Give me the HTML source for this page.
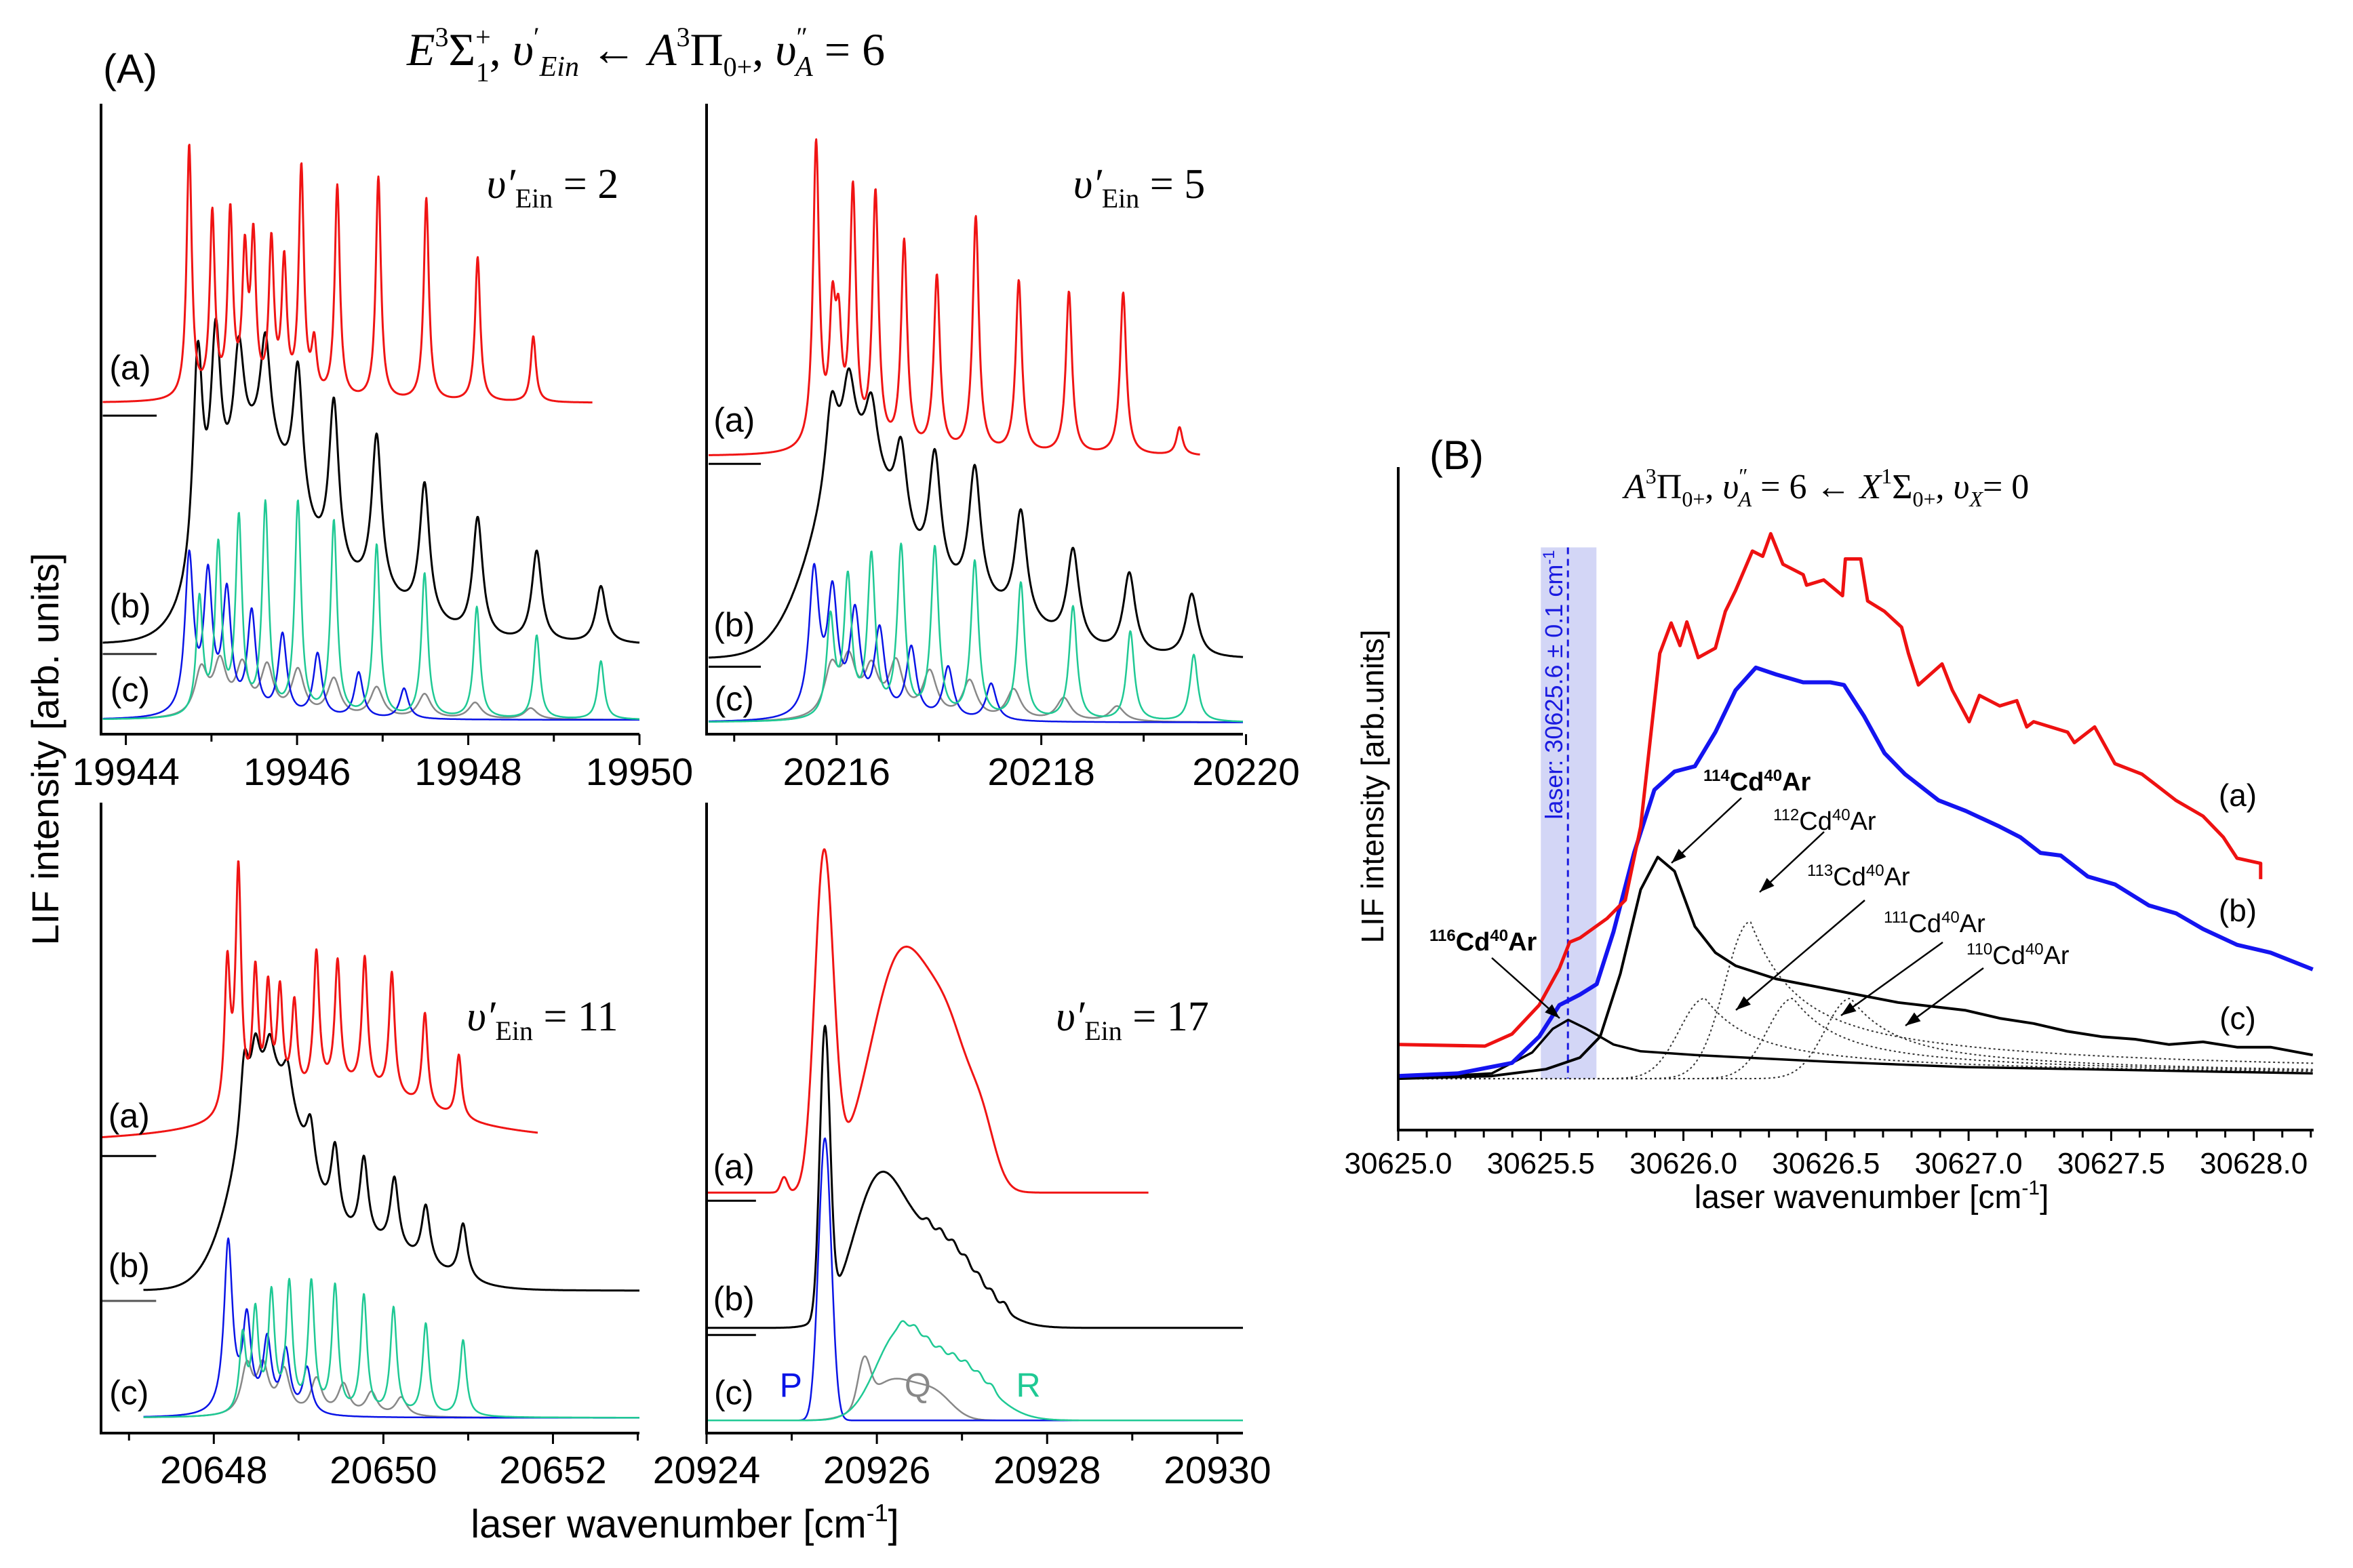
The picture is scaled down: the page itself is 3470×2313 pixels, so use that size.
<!DOCTYPE html>
<html><head><meta charset="utf-8"><title>LIF spectra</title>
<style>
html,body{margin:0;padding:0;background:#fff;}
svg{display:block;}
.sans{font-family:"Liberation Sans",Arial,sans-serif;}
.serif{font-family:"Liberation Serif","Times New Roman",serif;}
</style></head>
<body>
<svg id="fig" xmlns="http://www.w3.org/2000/svg" width="3470" height="2313" viewBox="0 0 3470 2313">
<rect x="0" y="0" width="3470" height="2313" fill="#fff"/>
<text class="sans" x="152" y="122" font-size="60">(A)</text>
<text class="serif" x="600" y="96" font-size="68"><tspan font-style="italic">E</tspan><tspan font-size="40" dy="-28">3</tspan><tspan dy="28">Σ</tspan><tspan font-size="40" dy="-28">+</tspan><tspan font-size="40" dx="-22" dy="52">1</tspan><tspan dy="-24">, </tspan><tspan font-style="italic">υ</tspan><tspan font-size="40" dy="-28">′</tspan><tspan font-size="42" font-style="italic" dy="44">Ein</tspan><tspan dy="-16"> ← </tspan><tspan font-style="italic">A</tspan><tspan font-size="40" dy="-28">3</tspan><tspan dy="28">Π</tspan><tspan font-size="40" dy="16">0+</tspan><tspan dy="-16">, </tspan><tspan font-style="italic">υ</tspan><tspan font-size="40" dy="-28">″</tspan><tspan font-size="42" font-style="italic" dx="-18" dy="44">A</tspan><tspan dy="-16"> = 6</tspan></text>
<text class="sans" font-size="56" transform="translate(86,1105) rotate(-90)" text-anchor="middle">LIF intensity [arb. units]</text>
<text class="sans" font-size="58" x="1010" y="2268" text-anchor="middle">laser wavenumber [cm<tspan font-size="36" dy="-24">-1</tspan><tspan dy="24">]</tspan></text>

<text class="sans" x="2108" y="692" font-size="60">(B)</text>
<text class="serif" x="2395" y="735" font-size="52"><tspan font-style="italic">A</tspan><tspan font-size="32" dy="-22">3</tspan><tspan dy="22">Π</tspan><tspan font-size="32" dy="12">0+</tspan><tspan dy="-12">, </tspan><tspan font-style="italic">υ</tspan><tspan font-size="32" dy="-22">″</tspan><tspan font-size="32" font-style="italic" dx="-14" dy="34">A</tspan><tspan dy="-12"> = 6 ← </tspan><tspan font-style="italic">X</tspan><tspan font-size="32" dy="-22">1</tspan><tspan dy="22">Σ</tspan><tspan font-size="32" dy="12">0+</tspan><tspan dy="-12">, </tspan><tspan font-style="italic">υ</tspan><tspan font-size="32" font-style="italic" dy="12">X</tspan><tspan dy="-12">= 0</tspan></text>
<text class="sans" font-size="46" transform="translate(2040,1160) rotate(-90)" text-anchor="middle">LIF intensity [arb.units]</text>
<text class="sans" font-size="48" x="2760" y="1782" text-anchor="middle">laser wavenumber [cm<tspan font-size="30" dy="-20">-1</tspan><tspan dy="20">]</tspan></text>
<g id="layer"></g>
</svg>
<script>
// ---------- Panel A1 (v'Ein = 2) ----------
const a1RedPos=[19944.74,19945.01,19945.22,19945.39,19945.49,19945.70,19945.85,19946.05,19946.20,19946.47,19946.95,19947.51,19948.11,19948.76];
const a1RedAmp=[500,360,360,270,300,300,260,450,100,420,440,400,285,130];
const a1BlackPos=[19945.5,19946.6,19944.84,19945.05,19945.32,19945.63,19946.01,19946.43,19946.93,19947.49,19948.11,19948.80,19949.55];
const a1BlackAmp=[350,100,430,360,220,210,280,330,310,265,235,180,113];
const a1BlackWid=[0.45,0.7,0.07,0.07,0.07,0.07,0.07,0.07,0.07,0.07,0.07,0.07,0.07];
const a1BlackShape=['g','g','l','l','l','l','l','l','l','l','l','l','l'];
const a1GreenPos=[19944.86,19945.08,19945.32,19945.63,19946.01,19946.43,19946.93,19947.49,19948.10,19948.80,19949.55];
const a1GreenAmp=[230,330,385,415,420,385,340,285,220,165,115];
const a1BluePos=[19944.74,19944.96,19945.18,19945.47,19945.83,19946.24,19946.72,19947.25];
const a1BlueAmp=[310,265,235,200,160,125,90,60];
const a1GrayPos=[19944.88,19945.10,19945.36,19945.65,19946.01,19946.43,19946.93,19947.49,19948.08,19948.73];
const a1GrayAmp=[90,100,95,95,90,75,60,48,32,22];
const a1Ticks=[19944,19945,19946,19947,19948,19949,19950];
const a1TickLabels=["19944","19946","19948","19950"];
// ---------- Panel A2 (v'Ein = 5) ----------
const a2RedPos=[20215.80,20215.96,20216.02,20216.16,20216.38,20216.66,20216.98,20217.36,20217.78,20218.27,20218.80,20219.35];
const a2RedAmp=[600,240,200,500,500,410,345,465,340,320,320,55];
const a2BlackPos=[20216.15,20217.1,20215.95,20216.12,20216.34,20216.63,20216.96,20217.35,20217.80,20218.31,20218.86,20219.47];
const a2BlackAmp=[340,110,170,150,130,170,250,260,215,185,160,125];
const a2BlackWid=[0.38,0.7,0.07,0.07,0.07,0.07,0.07,0.07,0.07,0.07,0.07,0.07];
const a2BlackShape=['g','g','l','l','l','l','l','l','l','l','l','l'];
const a2GreenPos=[20215.94,20216.11,20216.34,20216.63,20216.96,20217.35,20217.80,20218.31,20218.87,20219.49];
const a2GreenAmp=[195,270,315,335,335,310,270,225,177,132];
const a2BluePos=[20215.78,20215.96,20216.18,20216.42,20216.73,20217.09,20217.51];
const a2BlueAmp=[283,233,198,168,138,103,73];
const a2GrayPos=[20215.95,20216.12,20216.34,20216.58,20216.91,20217.30,20217.73,20218.22,20218.74];
const a2GrayAmp=[95,105,90,105,90,75,60,45,30];
const a2Ticks=[20215,20216,20217,20218,20219,20220];
const a2TickLabels=["20216","20218","20220"];
// ---------- Panel A3 (v'Ein = 11) ----------
const a3RedPos=[20649.6,20648.16,20648.29,20648.49,20648.64,20648.78,20648.95,20649.21,20649.46,20649.78,20650.10,20650.49,20650.89];
const a3RedAmp=[110,290,470,260,220,210,180,270,245,255,240,185,125];
const a3RedWid=[1.2,0.04,0.04,0.04,0.04,0.04,0.04,0.04,0.04,0.04,0.04,0.04,0.04];
const a3BlackPos=[20648.65,20649.7,20648.36,20648.49,20648.66,20648.87,20649.14,20649.43,20649.77,20650.13,20650.50,20650.94];
const a3BlackAmp=[380,90,150,100,70,70,100,150,160,140,115,110];
const a3BlackWid=[0.38,0.7,0.06,0.06,0.06,0.06,0.06,0.06,0.06,0.06,0.06,0.06];
const a3BlackShape=['g','g','l','l','l','l','l','l','l','l','l','l'];
const a3GreenPos=[20648.34,20648.49,20648.68,20648.89,20649.15,20649.43,20649.77,20650.12,20650.50,20650.94];
const a3GreenAmp=[150,195,230,250,255,250,233,210,180,150];
const a3BluePos=[20648.17,20648.39,20648.63,20648.85,20649.10];
const a3BlueAmp=[337,180,140,120,90];
const a3GrayPos=[20648.39,20648.58,20648.83,20649.21,20649.53,20649.86,20650.21];
const a3GrayAmp=[95,90,85,70,60,45,37];
const a3Ticks=[20647,20648,20649,20650,20651,20652,20653];
const a3TickLabels=["20648","20650","20652"];
// ---------- Panel A4 (v'Ein = 17) ----------
const a4RedPos=[20924.91,20925.38,20926.3,20926.9,20927.25];
const a4RedAmp=[30,650,470,200,80];
const a4RedWid=[0.04,0.11,0.38,0.25,0.15];
const a4BlackPos=[20925.39,20926.0,20926.7,20926.6,20926.75,20926.9,20927.05,20927.2,20927.35,20927.5];
const a4BlackAmp=[560,250,170,15,15,15,15,15,15,15];
const a4BlackWid=[0.06,0.3,0.45,0.04,0.04,0.04,0.04,0.04,0.04,0.04];
const a4GreenPos=[20926.25,20926.9,20926.3,20926.45,20926.6,20926.75,20926.9,20927.05,20927.2,20927.35];
const a4GreenAmp=[150,110,12,12,12,12,12,12,12,12];
const a4GreenWid=[0.28,0.4,0.04,0.04,0.04,0.04,0.04,0.04,0.04,0.04];
const a4BluePos=[20925.39];
const a4BlueAmp=[555];
const a4GrayPos=[20925.85,20926.2,20926.7];
const a4GrayAmp=[85,80,40];
const a4GrayWid=[0.07,0.3,0.2];
const a4Ticks=[20924,20925,20926,20927,20928,20929,20930];
const a4TickLabels=["20924","20926","20928","20930"];
// ---------- Panel B ----------
const bRedX=[30625.000,30625.304,30625.399,30625.494,30625.565,30625.601,30625.637,30625.732,30625.796,30625.850,30625.917,30625.957,30625.988,30626.012,30626.052,30626.112,30626.147,30626.183,30626.242,30626.278,30626.306,30626.349,30626.420,30626.432,30626.492,30626.558,30626.568,30626.622,30626.646,30626.705,30626.765,30626.789,30626.824,30626.907,30626.943,30627.002,30627.038,30627.109,30627.169,30627.204,30627.228,30627.347,30627.371,30627.442,30627.513,30627.608,30627.656,30627.727,30627.822,30627.893,30627.941,30628.024,30628.024];
const bRedY=[163,160,183,238,308,358,366,403,438,578,908,966,923,968,900,918,988,1028,1103,1093,1136,1078,1058,1038,1048,1018,1088,1088,1008,988,958,908,848,888,838,778,828,808,818,768,778,758,738,768,698,678,658,628,598,558,518,508,478];
const bBlueX=[30625.000,30625.209,30625.399,30625.494,30625.565,30625.637,30625.696,30625.755,30625.827,30625.898,30625.969,30626.040,30626.112,30626.183,30626.254,30626.325,30626.420,30626.515,30626.563,30626.634,30626.705,30626.777,30626.895,30626.990,30627.109,30627.181,30627.252,30627.323,30627.418,30627.513,30627.632,30627.727,30627.822,30627.941,30628.059,30628.207];
const bBlueY=[103,108,128,178,238,258,278,378,528,648,683,693,758,838,881,868,853,853,848,788,718,678,628,608,578,558,528,523,483,468,428,413,383,353,338,306];
const bSumX=[30625.000,30625.328,30625.518,30625.637,30625.708,30625.779,30625.850,30625.910,30625.969,30626.040,30626.112,30626.183,30626.325,30626.515,30626.753,30626.990,30627.109,30627.228,30627.347,30627.466,30627.584,30627.703,30627.822,30627.941,30628.059,30628.207];
const bSumY=[98,103,116,138,178,298,458,520,493,388,338,313,288,268,243,228,213,203,188,178,173,163,168,158,158,143];
const b116X=[30625.000,30625.328,30625.470,30625.542,30625.596,30625.660,30625.755,30625.850,30626.040,30626.515,30626.990,30628.207];
const b116Y=[98,108,148,193,210,193,163,150,143,130,120,108];
const bDotPos=[30626.076,30626.235,30626.385,30626.587];
const bDotAmp=[180,352,180,180];
const bTicks=[30625.0,30625.5,30626.0,30626.5,30627.0,30627.5,30628.0];
const bTickLabels=["30625.0","30625.5","30626.0","30626.5","30627.0","30627.5","30628.0"];

const NS="http://www.w3.org/2000/svg";
const layer=document.getElementById('layer');
function mk(tag,attrs,parent){const e=document.createElementNS(NS,tag);for(const k in attrs)e.setAttribute(k,attrs[k]);(parent||layer).appendChild(e);return e;}
function spec(x,pos,amp,wid,shape){let s=0;for(let i=0;i<pos.length;i++){const w=Array.isArray(wid)?wid[i]:wid;const sh=Array.isArray(shape)?shape[i]:shape;const d=x-pos[i];s+=sh==='g'?amp[i]*Math.exp(-d*d/(2*w*w)):amp[i]*w*w/(d*d+w*w);}return s;}
function makePanel(px0,px1,py0,py1,xmin,xmax,ymax){return {sx:v=>px0+(v-xmin)/(xmax-xmin)*(px1-px0),sy:v=>py1-v/ymax*(py1-py0),px0,px1,py0,py1,xmin,xmax};}
function drawSpec(P,name,x0,x1,base,pos,amp,wid,shape,color,sw){let d='';const N=1000;for(let i=0;i<=N;i++){const x=x0+(x1-x0)*i/N;const y=base+spec(x,pos,amp,wid,shape);d+=(i?'L':'M')+P.sx(x).toFixed(1)+','+P.sy(y).toFixed(1);}
 const e=mk('path',{d:d,fill:'none',stroke:color,'stroke-width':sw,'stroke-linejoin':'round'});
 
 return e;}
function drawPts(P,name,xs,ys,color,sw,dash){let d='';for(let i=0;i<xs.length;i++)d+=(i?'L':'M')+P.sx(xs[i]).toFixed(1)+','+P.sy(ys[i]).toFixed(1);
 const e=mk('path',{d:d,fill:'none',stroke:color,'stroke-width':sw,'stroke-linejoin':'round'});if(dash)e.setAttribute('stroke-dasharray',dash);
 
 return e;}
function axes(P,name,ticks,labels,labelVals,fs,ly){
 const g=mk('g',{});
 
 
 mk('line',{x1:P.px0,y1:P.py0,x2:P.px0,y2:P.py1+2,stroke:'#000','stroke-width':4},g);
 mk('line',{x1:P.px0-2,y1:P.py1,x2:P.px1,y2:P.py1,stroke:'#000','stroke-width':4},g);
 ticks.forEach(t=>{const x=P.sx(t);const maj=labelVals.some(v=>Math.abs(v-t)<1e-6);const tk=mk('line',{x1:x,y1:P.py1,x2:x,y2:P.py1+(maj?16:11),stroke:'#000','stroke-width':3},g);
  
  });
 labels.forEach((l,i)=>{const t=mk('text',{x:P.sx(labelVals[i]),y:ly,'font-size':fs,'text-anchor':'middle',class:'sans'},g);t.textContent=l;
  
  });
 return g;}
function label(P,name,xv,yv,txt,fs,color,cls){const t=mk('text',{x:P.sx(xv),y:P.sy(yv)+fs*0.35,'font-size':fs,'text-anchor':'middle',fill:color||'#000',class:cls||'sans'});t.textContent=txt;
 
 return t;}
function marker(P,name,x0,x1,yv,color){const e=mk('line',{x1:P.sx(x0),x2:P.sx(x1),y1:P.sy(yv),y2:P.sy(yv),stroke:color,'stroke-width':3});
 
 }
function vlabel(x,y,num,name){const t=mk('text',{x:x,y:y,'font-size':62,class:'serif','text-anchor':'middle'});
 
 
 t.innerHTML='<tspan font-style="italic">υ′</tspan><tspan font-size="40" dy="14">Ein</tspan><tspan dy="-14"> = '+num+'</tspan>';}

const GREEN='#1fc994', BLUE='#0a14e6', GRAY='#888', RED='#f01414';
// A1
const P1=makePanel(149,943,153,1083,19943.71,19950.0,1243);
drawSpec(P1,'a1-trace-c-gray',19943.73,19950,28,a1GrayPos,a1GrayAmp,0.09,'l',GRAY,2.5);
drawSpec(P1,'a1-trace-c-blue',19943.73,19950,28,a1BluePos,a1BlueAmp,0.06,'l',BLUE,2.5);
drawSpec(P1,'a1-trace-c-green',19943.73,19950,28,a1GreenPos,a1GreenAmp,0.045,'l',GREEN,2.5);
drawSpec(P1,'a1-trace-b-black',19943.73,19950,176,a1BlackPos,a1BlackAmp,a1BlackWid,a1BlackShape,'#000',3);
drawSpec(P1,'a1-trace-a-red',19943.73,19949.45,653,a1RedPos,a1RedAmp,0.036,'l',RED,3);
marker(P1,'a1-offset-a',19943.73,19944.36,628,'#000');marker(P1,'a1-offset-b',19943.73,19944.36,158,'#333');
label(P1,'a1-label-a',19944.05,723,'(a)',50);label(P1,'a1-label-b',19944.05,253,'(b)',50);label(P1,'a1-label-c',19944.05,88,'(c)',50);
axes(P1,'a1-axes',a1Ticks,a1TickLabels,[19944,19946,19948,19950],57,1158);
vlabel(815,292,'2','a1-vibrational-label');
// A2
const P2=makePanel(1042,1833,153,1083,20214.73,20219.97,1243);
drawSpec(P2,'a2-trace-c-gray',20214.75,20219.97,23,a2GrayPos,a2GrayAmp,0.085,'l',GRAY,2.5);
drawSpec(P2,'a2-trace-c-blue',20214.75,20219.97,23,a2BluePos,a2BlueAmp,0.06,'l',BLUE,2.5);
drawSpec(P2,'a2-trace-c-green',20214.75,20219.97,23,a2GreenPos,a2GreenAmp,0.045,'l',GREEN,2.5);
drawSpec(P2,'a2-trace-b-black',20214.75,20219.97,148,a2BlackPos,a2BlackAmp,a2BlackWid,a2BlackShape,'#000',3);
drawSpec(P2,'a2-trace-a-red',20214.75,20219.55,548,a2RedPos,a2RedAmp,0.036,'l',RED,3);
marker(P2,'a2-offset-a',20214.75,20215.26,533,'#000');marker(P2,'a2-offset-b',20214.75,20215.26,133,'#000');
label(P2,'a2-label-a',20215.0,620,'(a)',50);label(P2,'a2-label-b',20215.0,216,'(b)',50);label(P2,'a2-label-c',20215.0,70,'(c)',50);
axes(P2,'a2-axes',a2Ticks,a2TickLabels,[20216,20218,20220],57,1158);
vlabel(1680,292,'5','a2-vibrational-label');
// A3
const P3=makePanel(149,943,1184,2114,20646.67,20653.02,1240);
drawSpec(P3,'a3-trace-c-gray',20647.17,20653.02,30,a3GrayPos,a3GrayAmp,0.08,'l',GRAY,2.5);
drawSpec(P3,'a3-trace-c-blue',20647.17,20653.02,30,a3BluePos,a3BlueAmp,0.06,'l',BLUE,2.5);
drawSpec(P3,'a3-trace-c-green',20647.17,20653.02,30,a3GreenPos,a3GreenAmp,0.045,'l',GREEN,2.5);
drawSpec(P3,'a3-trace-b-black',20647.17,20653.02,280,a3BlackPos,a3BlackAmp,a3BlackWid,a3BlackShape,'#000',3);
drawSpec(P3,'a3-trace-a-red',20646.67,20651.82,565,a3RedPos,a3RedAmp,a3RedWid,'l',RED,3);
marker(P3,'a3-offset-a',20646.67,20647.32,545,'#000');marker(P3,'a3-offset-b',20646.67,20647.32,260,'#555');
label(P3,'a3-label-a',20647.0,625,'(a)',50);label(P3,'a3-label-b',20647.0,330,'(b)',50);label(P3,'a3-label-c',20647.0,80,'(c)',50);
axes(P3,'a3-axes',a3Ticks,a3TickLabels,[20648,20650,20652],57,2188);
vlabel(800,1520,'11','a3-vibrational-label');
// A4
const P4=makePanel(1042,1833,1184,2114,20924.0,20930.3,1240);
drawSpec(P4,'a4-trace-c-gray-q',20924.0,20930.3,25,a4GrayPos,a4GrayAmp,a4GrayWid,'g',GRAY,2.5);
drawSpec(P4,'a4-trace-c-blue-p',20924.0,20930.3,25,a4BluePos,a4BlueAmp,0.075,'g',BLUE,2.5);
drawSpec(P4,'a4-trace-c-green-r',20924.0,20930.3,25,a4GreenPos,a4GreenAmp,a4GreenWid,'g',GREEN,2.5);
drawSpec(P4,'a4-trace-b-black',20924.0,20930.3,207,a4BlackPos,a4BlackAmp,a4BlackWid,'g','#000',3);
drawSpec(P4,'a4-trace-a-red',20924.0,20929.19,473,a4RedPos,a4RedAmp,a4RedWid,'g',RED,3);
marker(P4,'a4-offset-a',20924.0,20924.58,457,'#000');marker(P4,'a4-offset-b',20924.0,20924.58,193,'#000');
label(P4,'a4-label-a',20924.32,525,'(a)',50);label(P4,'a4-label-b',20924.32,265,'(b)',50);label(P4,'a4-label-c',20924.32,80,'(c)',50);
label(P4,'a4-label-p',20924.99,95,'P',50,BLUE);label(P4,'a4-label-q',20926.48,95,'Q',50,GRAY);label(P4,'a4-label-r',20927.78,95,'R',50,GREEN);
axes(P4,'a4-axes',a4Ticks,a4TickLabels,[20924,20926,20928,20930],57,2188);
vlabel(1670,1520,'17','a4-vibrational-label');
// B
const PB=makePanel(2062,3412,689,1667,30625.0,30628.21,1263);
const band=mk('rect',{x:PB.sx(30625.5),y:PB.sy(1110),width:PB.sx(30625.695)-PB.sx(30625.5),height:PB.sy(98)-PB.sy(1110),fill:'#d3d6f6'});


const ll=mk('line',{x1:PB.sx(30625.595),x2:PB.sx(30625.595),y1:PB.sy(1110),y2:PB.sy(98),stroke:'#1a1ae0','stroke-width':3,'stroke-dasharray':'10,7'});


const lt=mk('text',{transform:'translate('+(PB.sx(30625.595)-8)+',1010) rotate(-90)','font-size':36,fill:'#1a1ae0','text-anchor':'middle',class:'sans'});


lt.innerHTML='laser: 30625.6 ± 0.1 cm<tspan font-size="24" dy="-12">-1</tspan>';
bDotPos.forEach((p,i)=>{let d='';for(let k=0;k<=400;k++){const x=30625.0+3.21*k/400;const dx=x-p;const v=dx<0?bDotAmp[i]*Math.exp(-dx*dx/(2*0.09*0.09)):bDotAmp[i]*(0.35*Math.exp(-dx/0.12)+0.65/(1+dx/0.35));d+=(k?'L':'M')+PB.sx(x).toFixed(1)+','+PB.sy(98+v*0.85).toFixed(1);}
 const e=mk('path',{d:d,fill:'none',stroke:'#333','stroke-width':2,'stroke-dasharray':'3,4'});
 
 });
drawPts(PB,'b-trace-116',b116X,b116Y,'#000',3.5);
drawPts(PB,'b-trace-c-sum',bSumX,bSumY,'#000',4);
drawPts(PB,'b-trace-b-blue',bBlueX,bBlueY,'#1414f0',6);
drawPts(PB,'b-trace-a-red',bRedX,bRedY,'#ee1111',5);
const bt=axes(PB,'b-axes',[30625.0,30625.1,30625.2,30625.3,30625.4,30625.5,30625.6,30625.7,30625.8,30625.9,30626.0,30626.1,30626.2,30626.3,30626.4,30626.5,30626.6,30626.7,30626.8,30626.9,30627.0,30627.1,30627.2,30627.3,30627.4,30627.5,30627.6,30627.7,30627.8,30627.9,30628.0,30628.1,30628.2],bTickLabels,bTicks,44,1731);
function arrow(x1,y1,x2,y2,name){const g=mk('g',{});
 
 
 mk('line',{x1:x1,y1:y1,x2:x2,y2:y2,stroke:'#000','stroke-width':2.5},g);
 const a=Math.atan2(y2-y1,x2-x1),L=22,W=8;const bx=x2-L*Math.cos(a),by=y2-L*Math.sin(a);
 mk('polygon',{points:x2+','+y2+' '+(bx-W*Math.sin(a))+','+(by+W*Math.cos(a))+' '+(bx+W*Math.sin(a))+','+(by-W*Math.cos(a)),fill:'#000'},g);}
arrow(2200,1413,2300,1502,'arrow-116');arrow(2568,1177,2465,1273,'arrow-114');arrow(2690,1227,2595,1316,'arrow-112');
arrow(2750,1328,2560,1490,'arrow-113');arrow(2865,1390,2715,1498,'arrow-111');arrow(2925,1428,2810,1513,'arrow-110');
function iso(x,y,m,bold,name){const t=mk('text',{x:x,y:y,'font-size':38,class:'sans','font-weight':bold?'bold':'normal'});
 
 
 t.innerHTML='<tspan font-size="24" dy="-14">'+m+'</tspan><tspan dy="14">Cd</tspan><tspan font-size="24" dy="-14">40</tspan><tspan dy="14">Ar</tspan>';}
iso(2108,1402,'116',true,'label-116cdar');iso(2512,1166,'114',true,'label-114cdar');iso(2615,1224,'112',false,'label-112cdar');
iso(2665,1306,'113',false,'label-113cdar');iso(2778,1375,'111',false,'label-111cdar');iso(2900,1422,'110',false,'label-110cdar');
const bl=[['(a)',1173],['(b)',1343],['(c)',1502]];
bl.forEach(b=>{const t=mk('text',{x:3300,y:b[1]+16,'font-size':46,'text-anchor':'middle',class:'sans'});t.textContent=b[0];
 
 });
</script>
</body></html>
